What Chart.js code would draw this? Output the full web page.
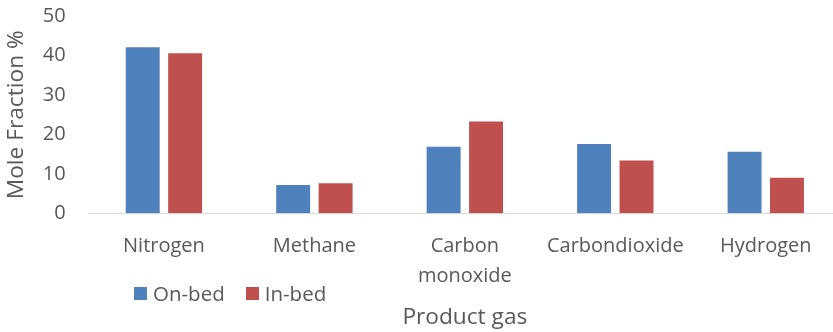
<!DOCTYPE html>
<html>
<head>
<meta charset="utf-8">
<script src="https://cdn.jsdelivr.net/npm/chart.js@4/dist/chart.umd.min.js"></script>
<style>
  html, body { margin: 0; padding: 0; background: #ffffff; overflow: hidden; }
  #wrap { position: relative; width: 833px; height: 332px; overflow: hidden; }
  canvas { display: block; }
  #legend {
    position: absolute; left: 134px; top: 279px;
    display: flex; align-items: center;
    font-family: "Open Sans", sans-serif; font-size: 20.5px; color: #595959;
  }
  #legend .item { display: flex; align-items: center; margin-right: 21px; }
  #legend .swatch { width: 13px; height: 13px; margin-right: 6px; }
</style>
</head>
<body>
<div id="wrap">
  <canvas id="chart" width="841" height="332"></canvas>
  <div id="legend"></div>
</div>
<script>
// Product gas composition (mole fraction, %)
const categories = ["Nitrogen", "Methane", ["Carbon", "monoxide"], "Carbondioxide", "Hydrogen"];
const onBed = [42.1, 7.2, 16.9, 17.6, 15.6];
const inBed = [40.6, 7.6, 23.3, 13.4, 9.0];
const seriesNames = ["On-bed", "In-bed"];
const yTicks = [0, 10, 20, 30, 40, 50];

const textColor = "#595959";
const fontFamily = "'Open Sans', sans-serif";

const chart = new Chart(document.getElementById("chart"), {
  type: "bar",
  data: {
    labels: categories,
    datasets: [
      { label: seriesNames[0], data: onBed, backgroundColor: "#4F81BD" },
      { label: seriesNames[1], data: inBed, backgroundColor: "#C0504D" }
    ]
  },
  options: {
    responsive: false,
    animation: false,
    events: [],
    categoryPercentage: 0.564,
    barPercentage: 0.8,
    layout: { padding: { top: 0, right: 0, bottom: 0, left: 0 } },
    plugins: { legend: { display: false }, tooltip: { enabled: false } },
    scales: {
      x: {
        grid: { display: false },
        border: { display: true, color: "#d9d9d9", width: 1 },
        ticks: {
          color: textColor, padding: 10, maxRotation: 0, autoSkip: false,
          font: { family: fontFamily, size: 20, lineHeight: 1.5 }
        },
        title: {
          display: true, text: "Product gas", color: textColor,
          font: { family: fontFamily, size: 22.7, lineHeight: 1.2 },
          padding: { top: 0, bottom: 1 }
        },
        afterFit(scale) { scale.height = 118.7; }
      },
      y: {
        min: 0, max: 50,
        afterBuildTicks(scale) { scale.ticks = yTicks.map(v => ({ value: v })); },
        grid: { display: false, drawTicks: false },
        border: { display: false },
        ticks: {
          color: textColor, padding: 23,
          font: { family: fontFamily, size: 20 }
        },
        title: {
          display: true, text: "Mole Fraction %", color: textColor,
          font: { family: fontFamily, size: 22.7, lineHeight: 1.2 },
          padding: { top: 3, bottom: 0 }
        },
        afterFit(scale) {
          scale.width = 88.7;
          scale.paddingTop = 16.2;
          scale.paddingBottom = 0;
        }
      }
    }
  }
});

// Legend built from the chart's datasets
const legendEl = document.getElementById("legend");
chart.data.datasets.forEach(ds => {
  const item = document.createElement("div");
  item.className = "item";
  const sw = document.createElement("span");
  sw.className = "swatch";
  sw.style.background = ds.backgroundColor;
  const txt = document.createElement("span");
  txt.textContent = ds.label;
  item.appendChild(sw);
  item.appendChild(txt);
  legendEl.appendChild(item);
});
</script>
</body>
</html>
